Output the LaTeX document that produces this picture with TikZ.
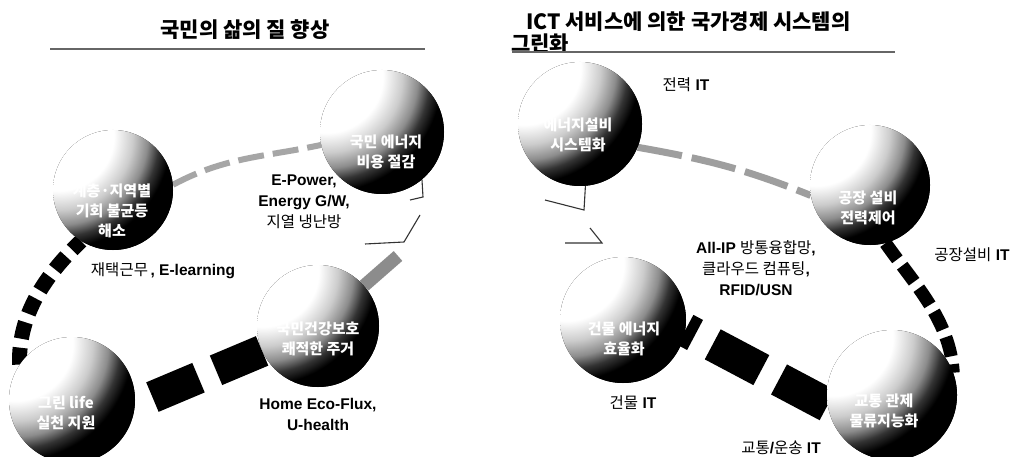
\documentclass[tikz,border=0pt]{standalone}
\usepackage{fontspec}
\setmainfont{Liberation Sans}
\newfontfamily\kr{Noto Sans CJK KR}
\newcommand\KRr[1]{{\kr\mdseries #1}}
\pgfdeclareradialshading{sphhl}{\pgfpoint{0bp}{0bp}}{color(0bp)=(white); color(9.5bp)=(white); color(12.8bp)=(black!20); color(15.4bp)=(black!45); color(17.4bp)=(black!80); color(19.4bp)=(black); color(50bp)=(black)}
\tikzset{
  sph/.style={circle, inner sep=0pt, minimum size=2*#1, fill=black,
    path picture={\shade[shading=sphhl] ([xshift=-0.9*#1,yshift=0.9*#1]path picture bounding box.center) circle (2.4*#1);}},
  sphtext/.style={text=white, font=\kr\bfseries\fontsize{15}{20}\selectfont, align=center, inner sep=0pt},
  lab/.style={font=\bfseries\fontsize{15.5}{21}\selectfont, align=center, inner sep=0pt},
  ttl/.style={font=\kr\bfseries\fontsize{21}{26}\selectfont, inner sep=0pt},
  uline/.style={draw=black!60, line width=2pt},
  thinrib/.style={draw=black!80, line width=1.1pt},
  grayrib/.style={draw=black!38, line width=#1, dash pattern=on 45pt off 10pt},
  blkrib/.style={draw=black, line width=#1},
}
\begin{document}
\begin{tikzpicture}[x=1pt,y=-1pt]
\useasboundingbox (0,0) rectangle (1025,457);
\fill[white] (0,0) rectangle (1025,457);

% titles
\node[ttl] (t1) at (245,30) {국민의 삶의 질 향상};
\coordinate (u1a) at (50,49);
\coordinate (u1b) at (425,49);
\draw[uline] (u1a) -- (u1b);
\node[ttl, anchor=west] (t2a) at (526,22) {ICT 서비스에 의한 국가경제 시스템의};
\node[ttl, anchor=west] (t2b) at (511,44) {그린화};
\coordinate (u2a) at (512,52);
\coordinate (u2b) at (895,52);
\draw[uline] (u2a) -- (u2b);

% sphere placeholders (named) for connectors
\path (382,132) node[circle,minimum size=124pt,inner sep=0pt] (s1) {};
\path (113,190) node[circle,minimum size=120pt,inner sep=0pt] (s2) {};
\path (72,400)  node[circle,minimum size=126pt,inner sep=0pt] (s3) {};
\path (318,326) node[circle,minimum size=122pt,inner sep=0pt] (s4) {};
\path (580,124) node[circle,minimum size=124pt,inner sep=0pt] (s5) {};
\path (870,185) node[circle,minimum size=120pt,inner sep=0pt] (s6) {};
\path (623,320) node[circle,minimum size=126pt,inner sep=0pt] (s7) {};
\path (892,395) node[circle,minimum size=130pt,inner sep=0pt] (s8) {};

% left ring connectors
\draw[draw=black!35, line width=6pt, dash pattern=on 26pt off 9pt] (s2.5) to[out=28,in=192] (s1.192);
\draw[thinrib] (s1.-50) -- (423,197) -- (410,200);
\coordinate (k1) at (420,215);
\coordinate (k2) at (365,244);
\draw[thinrib] (k1) -- (404,242) -- (k2);
\coordinate (k3) at (398,256);
\draw[draw=black!45, line width=13pt] (k3) -- (s4);
\draw[blkrib=32pt, dash pattern=on 50pt off 19pt] (s4.204) -- (s3.-4);
\draw[blkrib=15pt, dash pattern=on 17pt off 9pt] (s3.146) .. controls (18,320) and (40,280) .. (s2.-122);

% right ring connectors
\draw[grayrib=7pt] (s5.-22) to[out=-10,in=158] (s6.190);
\draw[blkrib=13pt, dash pattern=on 20pt off 8pt] (s6.-75) .. controls (915,285) and (950,320) .. (s8.20);
\draw[blkrib=34pt, dash pattern=on 55pt off 20pt] (s8.189) -- (s7.-9);
\coordinate (m1) at (545,200);
\draw[thinrib] (s5.-85) -- (584,210) -- (m1);
\coordinate (m2) at (590,228);
\coordinate (m3) at (565,243);
\draw[thinrib] (m2) -- (602,243) -- (m3);

% spheres
\node[sph=62pt] at (s1.center) {};
\node[sph=60pt] at (s2.center) {};
\node[sph=63pt] at (s3.center) {};
\node[sph=61pt] at (s4.center) {};
\node[sph=62pt] at (s5.center) {};
\node[sph=60pt] at (s6.center) {};
\node[sph=63pt] at (s7.center) {};
\node[sph=65pt] at (s8.center) {};

% sphere texts
\node[sphtext] (s1t) at (386,152) {국민 에너지\\비용 절감};
\node[sphtext] (s2t) at (112,211) {계층·지역별\\기회 불균등\\해소};
\node[sphtext] (s3t) at (66,413) {그린 life\\실천 지원};
\node[sphtext] (s4t) at (318,339) {국민건강보호\\쾌적한 주거};
\node[sphtext] (s5t) at (578,135) {에너지설비\\시스템화};
\node[sphtext] (s6t) at (868,208) {공장 설비\\전력제어};
\node[sphtext] (s7t) at (624,339) {건물 에너지\\효율화};
\node[sphtext] (s8t) at (884,411) {교통 관제\\물류지능화};

% labels
\node[lab] (l1) at (304,202) {E-Power,\\Energy G/W,\\\KRr{지열 냉난방}};
\node[lab] (l2) at (163,271) {\KRr{재택근무}\,, E-learning};
\node[lab] (l3) at (318,414) {Home Eco-Flux,\\U-health};
\node[lab] (l4) at (686,85) {\KRr{전력} IT};
\node[lab] (l5) at (972,255) {\KRr{공장설비} IT};
\node[lab] (l6) at (756,268) {All-IP \KRr{방통융합망},\\\KRr{클라우드 컴퓨팅},\\RFID/USN};
\node[lab] (l7) at (633,403) {\KRr{건물} IT};
\node[lab] (l8) at (781,448) {\KRr{교통}/\KRr{운송} IT};
\end{tikzpicture}
\end{document}
